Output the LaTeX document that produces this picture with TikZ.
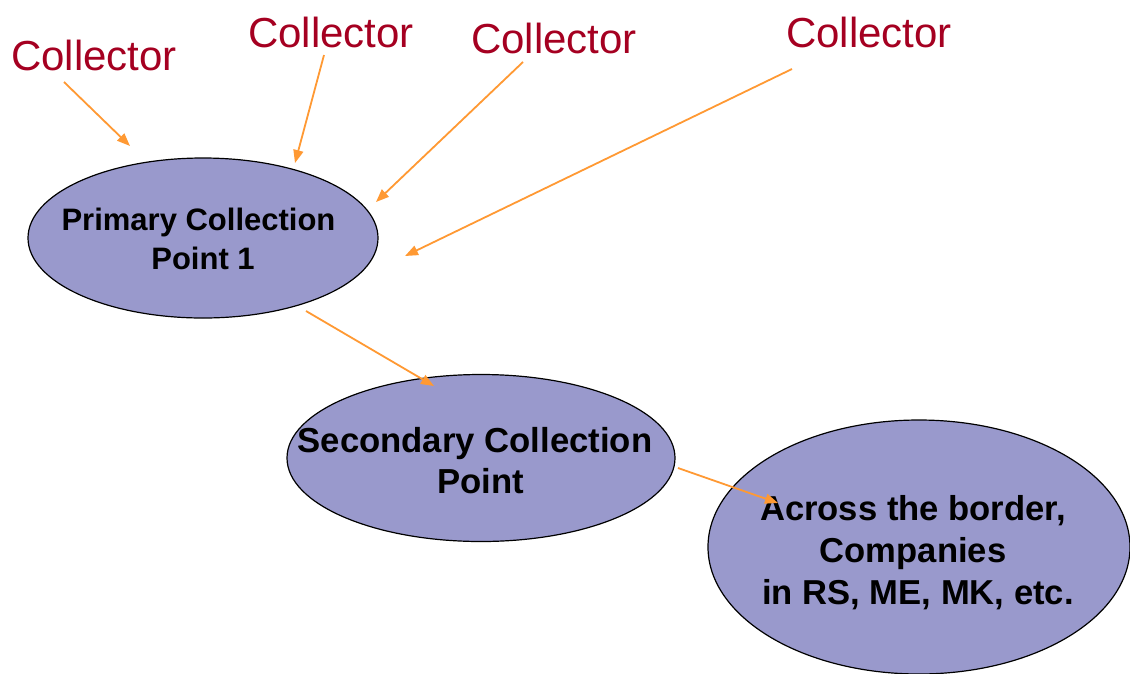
\documentclass[tikz,border=0pt]{standalone}
\usepackage{fontspec}
\setmainfont{Liberation Sans}
\usetikzlibrary{shapes.geometric,arrows.meta}
\definecolor{collred}{HTML}{A50021}
\definecolor{arrorange}{HTML}{FF9933}
\definecolor{ellfill}{HTML}{9999CC}
\tikzset{
  collector/.style={text=collred, font=\fontsize{42}{48}\selectfont, inner sep=0pt, anchor=base},
  pointell/.style={ellipse, draw=black, line width=1.2pt, fill=ellfill, inner sep=0pt},
  pointtext/.style={align=center, inner sep=0pt, text=black},
  feed/.style={draw=arrorange, line width=1.8pt, -{Triangle[length=13pt,width=10pt]}}
}
\begin{document}
\begin{tikzpicture}[x=1pt,y=-1pt]
\useasboundingbox (0,0) rectangle (1130,673);
\fill[white] (0,0) rectangle (1130,673);
% labels
\node[collector] (c1) at (94,70) {Collector};
\node[collector] (c2) at (331,47) {Collector};
\node[collector] (c3) at (554,53) {Collector};
\node[collector] (c4) at (869,47) {Collector};
% ellipses
\node[pointell, minimum width=350pt, minimum height=160pt] (p1) at (203,238) {};
\node[pointell, minimum width=388pt, minimum height=167pt] (p2) at (481,458) {};
\node[pointell, minimum width=422pt, minimum height=254pt] (p3) at (919,547) {};
\node[pointtext, font=\bfseries\fontsize{31}{39}\selectfont] (p1t) at ([yshift=-1pt]p1.center) {Primary Collection\hspace*{9pt}\\Point 1};
\node[pointtext, font=\bfseries\fontsize{34.7}{41}\selectfont] (p2t) at ([yshift=-3pt]p2.center) {Secondary Collection\hspace*{12pt}\\Point};
\node[pointtext, font=\bfseries\fontsize{34.6}{42}\selectfont] (p3t) at ([xshift=-6pt,yshift=-6pt]p3.center) {Across the border,\\Companies\\\hspace*{10pt}in RS, ME, MK, etc.};
% free ends
\coordinate (s1) at (64,82);   \coordinate (e1) at (130,146);
\coordinate (s2) at (324,55);  \coordinate (e2) at (295,163);
\coordinate (s3) at (523,62);  \coordinate (e3) at (376,202);
\coordinate (s4) at (792,69);  \coordinate (e4) at (405,256);
\coordinate (s5) at (306,311); \coordinate (e5) at (434,386);
\coordinate (s6) at (678,468); \coordinate (e6) at (778,503);
\draw[feed] (s1) -- (e1);
\draw[feed] (s2) -- (e2);
\draw[feed] (s3) -- (e3);
\draw[feed] (s4) -- (e4);
\draw[feed] (s5) -- (e5);
\draw[feed] (s6) -- (e6);
\end{tikzpicture}
\end{document}
